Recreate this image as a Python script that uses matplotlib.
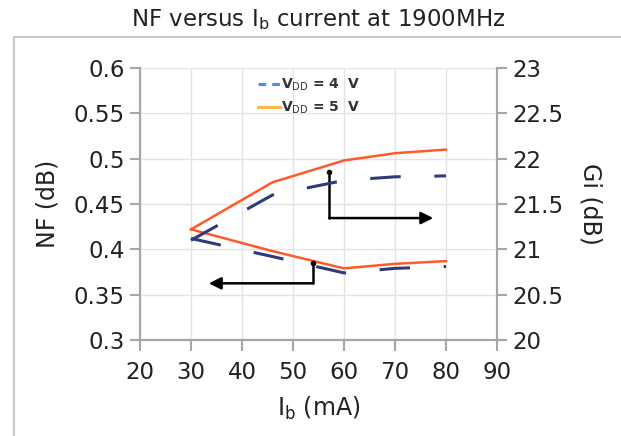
import matplotlib
matplotlib.use("Agg")
from matplotlib import pyplot as plt
from matplotlib import patches
from matplotlib.lines import Line2D

plt.rcParams['font.family'] = ['DejaVu Sans']
plt.rcParams['mathtext.fontset'] = 'dejavusans'

# data
ib = [30, 46, 60, 70, 80]
nf_4v = [0.412, 0.392, 0.374, 0.379, 0.381]
nf_5v = [0.422, 0.398, 0.379, 0.384, 0.387]
gi_4v = [21.10, 21.60, 21.76, 21.80, 21.81]
gi_5v = [21.22, 21.74, 21.98, 22.06, 22.10]
x_ticks = [20, 30, 40, 50, 60, 70, 80, 90]
nf_ticks = [0.3, 0.35, 0.4, 0.45, 0.5, 0.55, 0.6]
gi_ticks = [20, 20.5, 21, 21.5, 22, 22.5, 23]

# bent arrow callouts pointing to the axis each curve pair belongs to
gi_arrow = [(57.1, 0.485), (57.1, 0.4345), (77.5, 0.4345)]
nf_arrow = [(53.9, 0.3846), (53.9, 0.3625), (33.5, 0.3625)]

blue = '#2f3a78'
red = '#ff5a2c'
grey = '#a6a6a6'
txt = '#222222'

fig = plt.figure(figsize=(6.21, 4.36), dpi=100)
# outer chart border (cropped on right and bottom)
fig.patches.append(patches.Rectangle((14/621, -0.2), 1.5, 1.2 - 37/436,
                                     transform=fig.transFigure, fill=False,
                                     edgecolor='#c8c8c8', linewidth=1.5, zorder=-5))
ax = fig.add_axes([140/621, 1-340/436, 357/621, 272/436])
ax2 = ax.twinx()

ax.plot(ib, nf_4v, color=blue, linewidth=2.2, dashes=(10, 11))
ax.plot(ib, nf_5v, color=red, linewidth=1.8)
ax2.plot(ib, gi_4v, color=blue, linewidth=2.2, dashes=(10, 11))
ax2.plot(ib, gi_5v, color=red, linewidth=1.8)

ax.set_xlim(20, 90)
ax.set_ylim(0.3, 0.6)
ax2.set_ylim(20, 23)
ax.set_xticks(x_ticks)
ax.set_yticks(nf_ticks)
ax.set_yticklabels([f'{v:g}' for v in nf_ticks])
ax2.set_yticks(gi_ticks)
ax2.set_yticklabels([f'{v:g}' for v in gi_ticks])
ax.grid(True, color='#e3e3e3', linewidth=1)
ax.set_axisbelow(True)

for a in (ax, ax2):
    a.spines['top'].set_visible(False)
    for s in ('left', 'right', 'bottom'):
        a.spines[s].set_color(grey)
        a.spines[s].set_linewidth(1.5)
    a.tick_params(colors=grey, labelcolor=txt, labelsize=16.5,
                  length=7, width=1.5, direction='out', pad=4)
ax.tick_params(axis='x', length=8, pad=7)

ax.set_ylabel('NF (dB)', fontsize=17, color=txt, labelpad=10)
ax2.set_ylabel('Gi (dB)', fontsize=17, color=txt, rotation=270, labelpad=28)
ax.set_xlabel(r'I$_\mathrm{b}$ (mA)', fontsize=17, color=txt, labelpad=8)
fig.text(318 / 621, 1 - 20/436, r'NF versus I$_\mathrm{b}$ current at 1900MHz',
         fontsize=16.5, color=txt, ha='center', va='center')

for pts in (gi_arrow, nf_arrow):
    xs = [p[0] for p in pts[:2]]
    ys = [p[1] for p in pts[:2]]
    ax.plot(xs, ys, color='black', linewidth=1.8, solid_capstyle='round')
    ax.plot(xs[0], ys[0], 'o', color='black', markersize=3)
    ax.annotate('', xy=pts[2], xytext=pts[1],
                arrowprops=dict(arrowstyle='-|>', color='black', lw=1.8,
                                mutation_scale=18, shrinkA=0, shrinkB=0))

# legend (light colours as in the source)
handles = [Line2D([], [], color='#4a90e2', linewidth=2.2, dashes=(2.5, 2)),
           Line2D([], [], color='#ffb74d', linewidth=2.2)]
leg = ax.legend(handles, [r'V$_\mathrm{DD}$ = 4  V', r'V$_\mathrm{DD}$ = 5  V'],
                loc='upper left', bbox_to_anchor=(0.33, 0.967), frameon=False,
                prop=dict(size=10, weight='bold'), handlelength=1.6,
                handletextpad=0.1, labelspacing=0.45, borderaxespad=0,
                borderpad=0)
for t in leg.get_texts():
    t.set_color('#333333')

fig.savefig('out.png', dpi=100)
